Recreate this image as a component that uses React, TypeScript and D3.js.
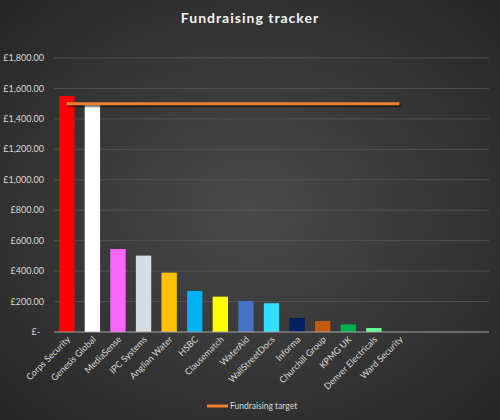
import { useEffect, useRef } from "react";
import * as d3 from "d3";

const companies = [
  "Corps Security",
  "Genesis Global",
  "MediaSense",
  "IPC Systems",
  "Anglian Water",
  "HSBC",
  "Clausematch",
  "WaterAid",
  "WallStreetDocs",
  "Informa",
  "Churchill Group",
  "KPMG UK",
  "Denver Electricals",
  "Ward Security",
  "",
  " ",
  "  ",
];
const raised = [1550, 1490, 545, 502, 390, 270, 232, 204, 189, 92, 72, 50, 26, 0];
const barColors = [
  "#ff0000",
  "#ffffff",
  "#ff66ff",
  "#d6dce4",
  "#ffc000",
  "#00b0f0",
  "#ffff00",
  "#4472c4",
  "#33ddff",
  "#002060",
  "#c55a11",
  "#00b050",
  "#66ff99",
  "#888888",
];
const target = 1500;
const yTicks = [0, 200, 400, 600, 800, 1000, 1200, 1400, 1600, 1800];

export default function App() {
  const svgRef = useRef<SVGSVGElement>(null);

  useEffect(() => {
    if (!svgRef.current) return;
    const svg = d3.select(svgRef.current);
    svg.selectAll("*").remove();

    const width = 500;
    const height = 420;
    const margin = { top: 58, right: 11, bottom: 88, left: 54 };
    const innerWidth = width - margin.left - margin.right;
    const innerHeight = height - margin.top - margin.bottom;
    const font = "Lato, 'Open Sans', sans-serif";

    const defs = svg.append("defs");
    const bg = defs
      .append("radialGradient")
      .attr("id", "bg")
      .attr("cx", "50%")
      .attr("cy", "50%")
      .attr("r", "70%");
    bg.append("stop").attr("offset", "0%").attr("stop-color", "#4a4a4a");
    bg.append("stop").attr("offset", "100%").attr("stop-color", "#262626");

    svg.append("rect").attr("width", width).attr("height", height).attr("fill", "url(#bg)");

    svg
      .append("text")
      .attr("x", width / 2)
      .attr("y", 23)
      .attr("text-anchor", "middle")
      .attr("fill", "#f2f2f2")
      .attr("font-family", font)
      .attr("font-weight", "bold")
      .attr("font-size", 14)
      .attr("letter-spacing", 1)
      .text("Fundraising tracker");

    const g = svg
      .append("g")
      .attr("transform", `translate(${margin.left},${margin.top})`);

    const x = d3.scaleBand().domain(companies).range([0, innerWidth]).paddingInner(0.4).paddingOuter(0.2);
    const y = d3.scaleLinear().domain([0, 1800]).range([innerHeight, 0]);

    g.selectAll(".grid")
      .data(yTicks.slice(1))
      .join("line")
      .attr("x1", 0)
      .attr("x2", innerWidth)
      .attr("y1", (d) => y(d))
      .attr("y2", (d) => y(d))
      .attr("stroke", "#5a5a5a")
      .attr("stroke-width", 0.75);

    g.selectAll(".ylab")
      .data(yTicks)
      .join("text")
      .attr("x", (d) => (d === 0 ? -14 : -10))
      .attr("y", (d) => y(d))
      .attr("dy", "0.35em")
      .attr("text-anchor", "end")
      .attr("fill", "#d9d9d9")
      .attr("font-family", font)
      .attr("font-size", 9)
      .text((d) => (d === 0 ? "£-" : "£" + d3.format(",.2f")(d)));

    g.selectAll(".bar")
      .data(raised)
      .join("rect")
      .attr("x", (_, i) => x(companies[i])!)
      .attr("y", (d) => y(d))
      .attr("width", x.bandwidth())
      .attr("height", (d) => innerHeight - y(d))
      .attr("fill", (_, i) => barColors[i]);

    g.append("line")
      .attr("x1", 0)
      .attr("x2", innerWidth)
      .attr("y1", innerHeight)
      .attr("y2", innerHeight)
      .attr("stroke", "#a6a6a6")
      .attr("stroke-width", 1);

    // target line with a soft dark shadow under it
    const half = x.bandwidth() / 2;
    const x1 = x(companies[0])! + half;
    const x2 = x(companies[raised.length - 1])! + half;
    g.append("line")
      .attr("x1", x1 + 1)
      .attr("x2", x2 + 1)
      .attr("y1", y(target) + 1.5)
      .attr("y2", y(target) + 1.5)
      .attr("stroke", "#000")
      .attr("stroke-opacity", 0.45)
      .attr("stroke-width", 4);
    g.append("line")
      .attr("x1", x1)
      .attr("x2", x2)
      .attr("y1", y(target))
      .attr("y2", y(target))
      .attr("stroke", "#f08030")
      .attr("stroke-width", 3);

    g.selectAll(".xlab")
      .data(companies.slice(0, raised.length))
      .join("text")
      .attr("transform", (d) => `translate(${x(d)! + half + 4},${innerHeight + 8}) rotate(-45)`)
      .attr("text-anchor", "end")
      .attr("fill", "#d9d9d9")
      .attr("font-family", font)
      .attr("font-size", 9)
      .text((d) => d);

    const legend = svg.append("g").attr("transform", `translate(207,${406})`);
    legend
      .append("line")
      .attr("x1", 0)
      .attr("x2", 21)
      .attr("stroke", "#f08030")
      .attr("stroke-width", 3);
    legend
      .append("text")
      .attr("x", 23)
      .attr("dy", "0.35em")
      .attr("fill", "#d9d9d9")
      .attr("font-family", font)
      .attr("font-size", 8.5)
      .text("Fundraising target");
  }, []);

  return (
    <svg
      ref={svgRef}
      width={500}
      height={420}
      style={{ position: "absolute", left: 0, top: 0 }}
    />
  );
}
